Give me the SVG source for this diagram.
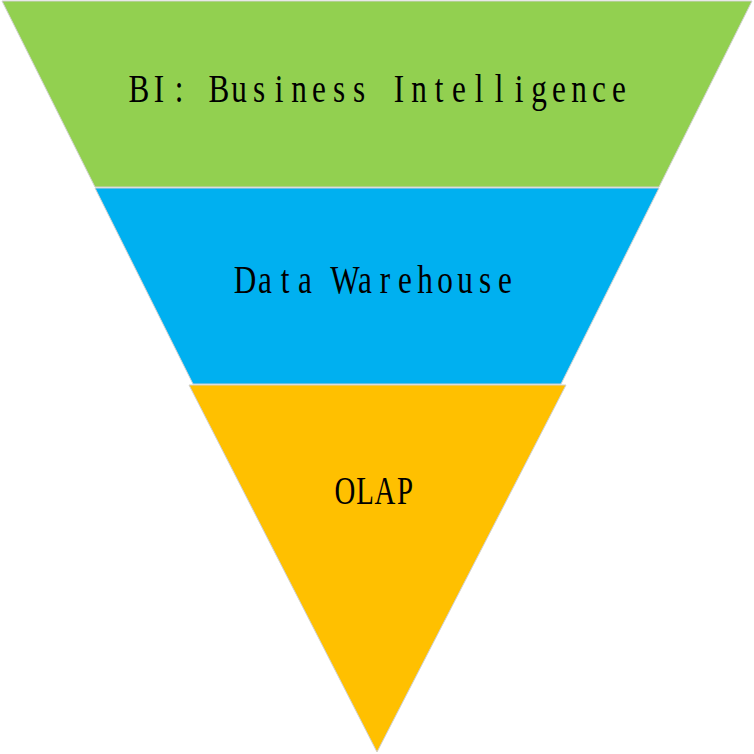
<svg xmlns="http://www.w3.org/2000/svg" width="754" height="754" viewBox="0 0 754 754">
<style>
.seg{stroke:#d0d0d0;stroke-width:1}
.lbl{font-family:"Liberation Serif","Noto Sans CJK SC",serif;font-size:39px;fill:#000;text-anchor:middle}
</style>
<rect width="754" height="754" fill="#fff"/>
<g id="bi">
<polygon class="seg" fill="#92D050" points="2,1 752,1 659,187 95,187"/>
<text class="lbl" transform="translate(379,102) scale(0.8,1)" x="-300 -275 -250 -225 -200 -175 -150 -125 -100 -75 -50 -25 0 25 50 75 100 125 150 175 200 225 250 275 300" y="0">BI: Business Intelligence</text>
</g>
<g id="dw">
<polygon class="seg" fill="#00B0F0" points="95,188 659,188 561,384 193,384"/>
<text class="lbl" transform="translate(375,293) scale(0.8,1)" x="-162.5 -137.5 -112.5 -87.5 -62.5 -37.5 -12.5 12.5 37.5 62.5 87.5 112.5 137.5 162.5" y="0">Data Warehouse</text>
</g>
<g id="olap">
<polygon class="seg" fill="#FFC000" points="189,385 566,385 377,752"/>
<text class="lbl" transform="translate(375,504) scale(0.74,1)" x="-40.54 -13.51 13.51 40.54" y="0">OLAP</text>
</g>
<g id="connectors"/>
</svg>
